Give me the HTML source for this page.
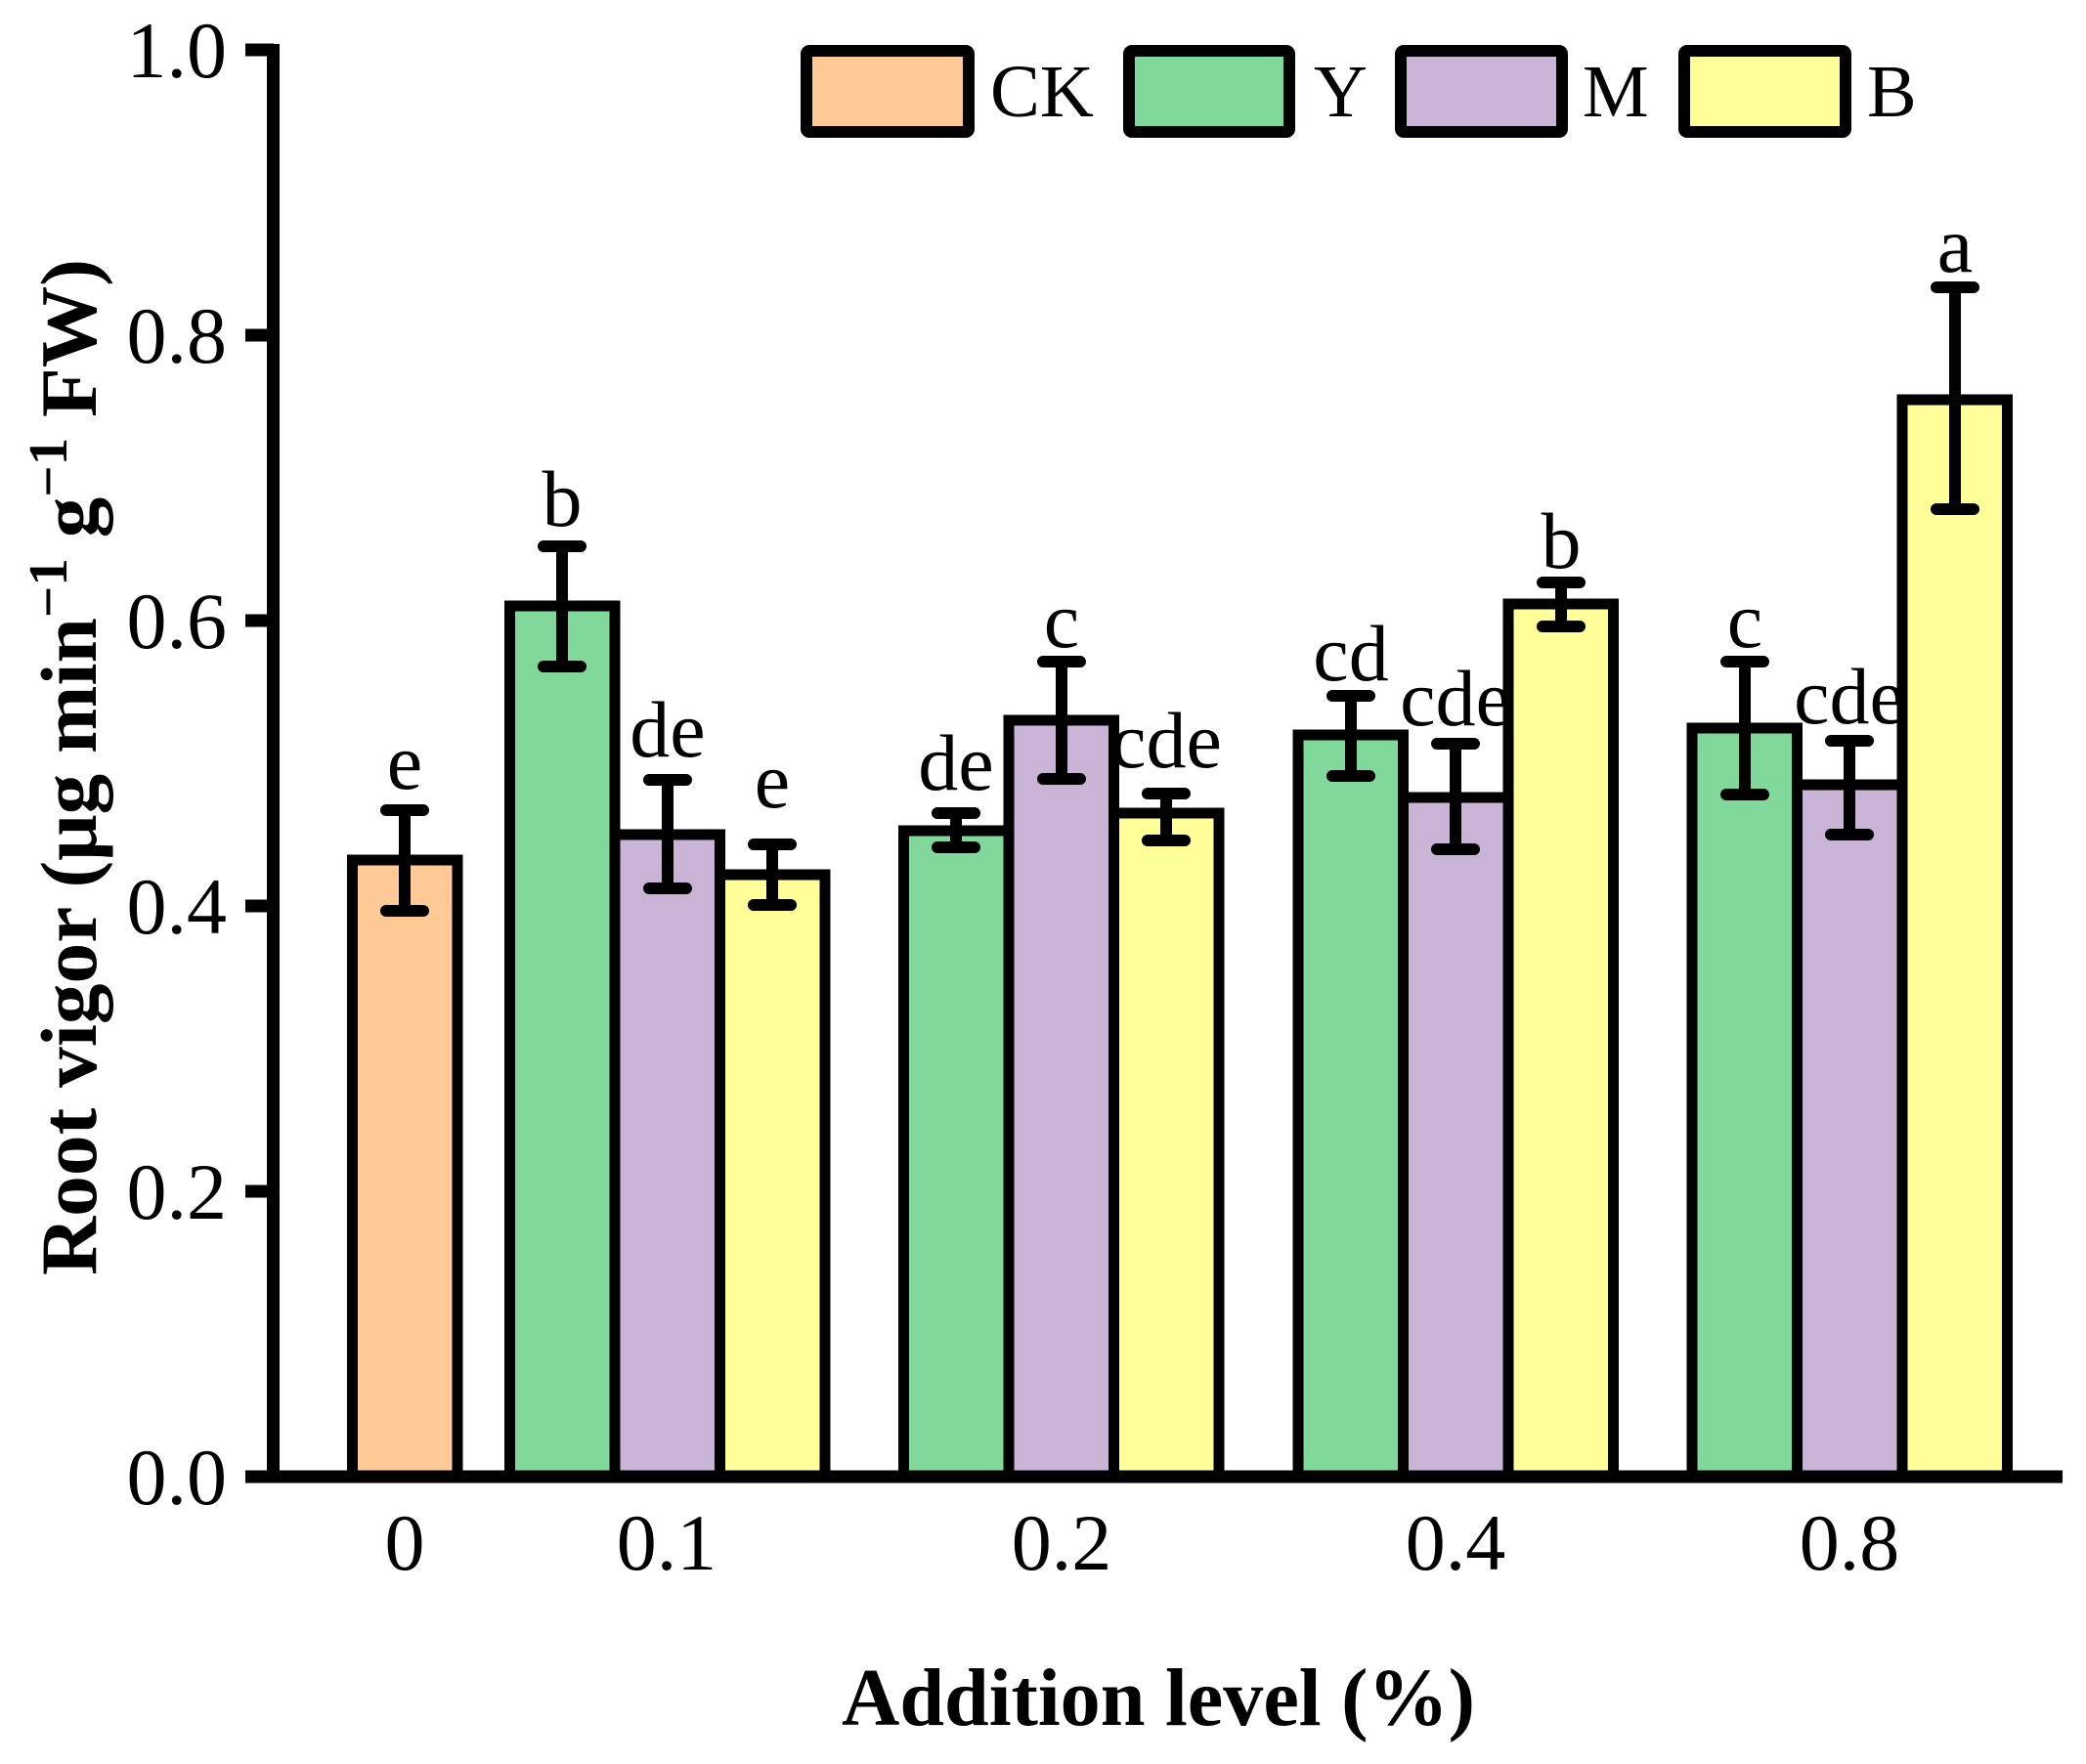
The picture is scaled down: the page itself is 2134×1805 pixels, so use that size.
<!DOCTYPE html>
<html><head><meta charset="utf-8"><style>html,body{margin:0;padding:0;background:#fff}svg{display:block}</style></head>
<body>
<svg xmlns="http://www.w3.org/2000/svg" width="2134" height="1805" viewBox="0 0 2134 1805" font-family="'Liberation Serif', serif">
<rect width="2134" height="1805" fill="#fff"/>
<g font-size="82" text-anchor="middle" fill="#000">
<text x="414" y="807">e</text>
<text x="575" y="538">b</text>
<text x="683" y="774">de</text>
<text x="790" y="826">e</text>
<text x="978" y="808">de</text>
<text x="1086" y="662">c</text>
<text x="1193" y="785">cde</text>
<text x="1382" y="696">cd</text>
<text x="1489" y="742">cde</text>
<text x="1597" y="581">b</text>
<text x="1785" y="662">c</text>
<text x="1892" y="740">cde</text>
<text x="2000" y="278">a</text>
</g>
<g stroke="#000" stroke-width="11">
<rect x="360.5" y="880" width="107.5" height="631" fill="#FFCA96"/>
<rect x="521.5" y="620" width="107.5" height="891" fill="#80D99A"/>
<rect x="629" y="854" width="107.5" height="657" fill="#C9B4D6"/>
<rect x="736.5" y="895" width="107.5" height="616" fill="#FFFF99"/>
<rect x="924.5" y="850" width="107.5" height="661" fill="#80D99A"/>
<rect x="1032" y="737" width="107.5" height="774" fill="#C9B4D6"/>
<rect x="1139.5" y="832" width="107.5" height="679" fill="#FFFF99"/>
<rect x="1328" y="752" width="107.5" height="759" fill="#80D99A"/>
<rect x="1435.5" y="816" width="107.5" height="695" fill="#C9B4D6"/>
<rect x="1543" y="618" width="107.5" height="893" fill="#FFFF99"/>
<rect x="1731" y="745" width="107.5" height="766" fill="#80D99A"/>
<rect x="1838.5" y="803" width="107.5" height="708" fill="#C9B4D6"/>
<rect x="1946" y="409" width="107.5" height="1102" fill="#FFFF99"/>
</g>
<g stroke="#000" stroke-width="12" stroke-linecap="round" fill="none">
<path d="M414 829V932M395 829H433M395 932H433"/>
<path d="M575 559V682M556 559H594M556 682H594"/>
<path d="M683 798V909M664 798H702M664 909H702"/>
<path d="M790 864V926M771 864H809M771 926H809"/>
<path d="M978 832V867M959 832H997M959 867H997"/>
<path d="M1086 677V797M1067 677H1105M1067 797H1105"/>
<path d="M1193 812V860M1174 812H1212M1174 860H1212"/>
<path d="M1382 712V794M1363 712H1401M1363 794H1401"/>
<path d="M1489 761V869M1470 761H1508M1470 869H1508"/>
<path d="M1597 596V641M1578 596H1616M1578 641H1616"/>
<path d="M1785 677V813M1766 677H1804M1766 813H1804"/>
<path d="M1892 758V854M1873 758H1911M1873 854H1911"/>
<path d="M2000 294V521M1981 294H2019M1981 521H2019"/>
</g>
<g stroke="#000" stroke-width="13" fill="none">
<path d="M279.5 45V1517"/>
<path d="M273 1511H2110"/>
<path d="M251 51H280M251 343H280M251 635H280M251 927H280M251 1219H280M251 1511H280"/>
</g>
<g font-size="82" text-anchor="end">
<text x="232" y="79">1.0</text>
<text x="232" y="371">0.8</text>
<text x="232" y="663">0.6</text>
<text x="232" y="955">0.4</text>
<text x="232" y="1247">0.2</text>
<text x="232" y="1539">0.0</text>
</g>
<g font-size="82" text-anchor="middle">
<text x="414" y="1606">0</text>
<text x="682" y="1606">0.1</text>
<text x="1086" y="1606">0.2</text>
<text x="1489" y="1606">0.4</text>
<text x="1892" y="1606">0.8</text>
</g>
<text x="861" y="1765" font-size="84" font-weight="bold" textLength="648" lengthAdjust="spacingAndGlyphs">Addition level (%)</text>
<text transform="translate(98,785) rotate(-90)" text-anchor="middle" font-size="82" font-weight="bold" textLength="1040" lengthAdjust="spacingAndGlyphs">Root vigor (μg min<tspan dy="-30" font-size="56">−1</tspan><tspan dy="30"> g</tspan><tspan dy="-30" font-size="56">−1</tspan><tspan dy="30"> FW)</tspan></text>
<g stroke="#000" stroke-width="12">
<rect x="825" y="52" width="166" height="83" rx="3" fill="#FFCA96"/>
<rect x="1155" y="52" width="164" height="83" rx="3" fill="#80D99A"/>
<rect x="1433" y="52" width="165" height="83" rx="3" fill="#C9B4D6"/>
<rect x="1723" y="52" width="165" height="83" rx="3" fill="#FFFF99"/>
</g>
<g font-size="76">
<text x="1013" y="119" textLength="106" lengthAdjust="spacingAndGlyphs">CK</text>
<text x="1344" y="119">Y</text>
<text x="1619" y="119">M</text>
<text x="1910" y="119">B</text>
</g>
</svg>
</body></html>
